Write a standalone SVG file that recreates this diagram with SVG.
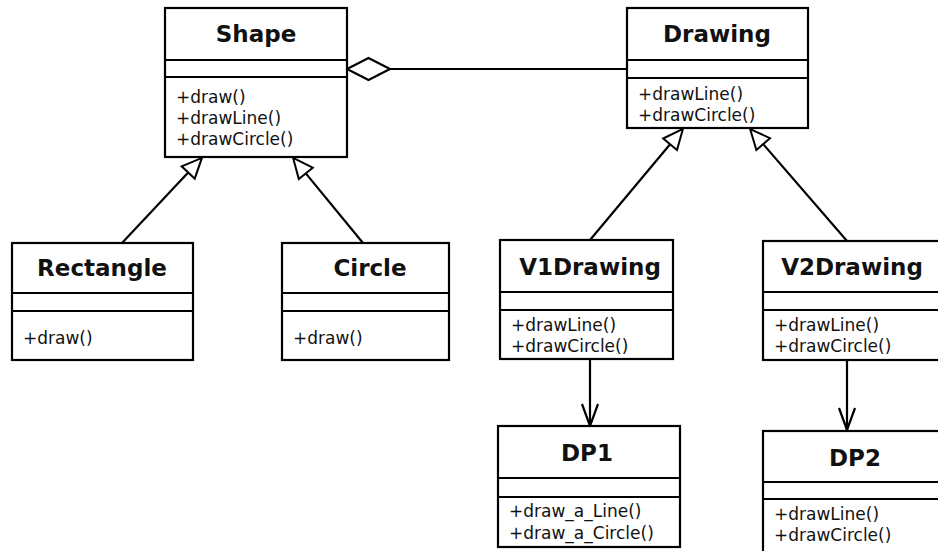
<svg xmlns="http://www.w3.org/2000/svg" width="938" height="551" viewBox="0 0 938 551">
<defs>
<style>
.box{fill:#fff;stroke:#000;stroke-width:2.2}
.div{stroke:#000;stroke-width:2.2}
.t{font-family:"DejaVu Sans",Verdana,sans-serif;font-weight:bold;font-size:23px;fill:#111;text-anchor:middle}
.m{font-family:"DejaVu Sans",Verdana,sans-serif;font-size:17px;fill:#111}
.ln{stroke:#000;stroke-width:2.2;fill:none}
</style>
<marker id="gen" viewBox="-2 -11 24 22" refX="0" refY="0" markerWidth="24" markerHeight="22" markerUnits="userSpaceOnUse" orient="auto">
<path d="M0,-9 L20,0 L0,9 Z" fill="#fff" stroke="#000" stroke-width="2"/>
</marker>
<marker id="dep" viewBox="-26 -11 28 22" refX="0" refY="0" markerWidth="28" markerHeight="22" markerUnits="userSpaceOnUse" orient="auto">
<path d="M-22,-8 L0,0 L-22,8" fill="none" stroke="#000" stroke-width="2.2"/>
</marker>
</defs>
<rect width="938" height="551" fill="#fff"/>
<g id="connectors">
<line class="ln" x1="627" y1="69" x2="390" y2="69"/>
<polygon points="347,69 368.5,58 390,69 368.5,80" fill="#fff" stroke="#000" stroke-width="2.2"/>
<line class="ln" x1="122" y1="243" x2="188.2" y2="172.5" marker-end="url(#gen)"/>
<line class="ln" x1="363" y1="243" x2="305.8" y2="173.4" marker-end="url(#gen)"/>
<line class="ln" x1="590" y1="240" x2="670.1" y2="144.3" marker-end="url(#gen)"/>
<line class="ln" x1="847" y1="241" x2="763.2" y2="144.1" marker-end="url(#gen)"/>
<line class="ln" x1="590" y1="359" x2="590" y2="426" marker-end="url(#dep)"/>
<line class="ln" x1="847" y1="360" x2="847" y2="430" marker-end="url(#dep)"/>
</g>
<g id="Shape">
<rect class="box" x="165" y="8" width="182" height="149"/>
<line class="div" x1="165" y1="60" x2="347" y2="60"/>
<line class="div" x1="165" y1="77" x2="347" y2="77"/>
<text class="t" x="256" y="42">Shape</text>
<text class="m" x="176" y="103">+draw()</text>
<text class="m" x="176" y="124">+drawLine()</text>
<text class="m" x="176" y="145">+drawCircle()</text>
</g>
<g id="Drawing">
<rect class="box" x="627" y="8" width="181" height="120"/>
<line class="div" x1="627" y1="60" x2="808" y2="60"/>
<line class="div" x1="627" y1="78" x2="808" y2="78"/>
<text class="t" x="717" y="42">Drawing</text>
<text class="m" x="638" y="100">+drawLine()</text>
<text class="m" x="638" y="121">+drawCircle()</text>
</g>
<g id="Rectangle">
<rect class="box" x="12" y="243" width="181" height="117"/>
<line class="div" x1="12" y1="293" x2="193" y2="293"/>
<line class="div" x1="12" y1="311" x2="193" y2="311"/>
<text class="t" x="102" y="276">Rectangle</text>
<text class="m" x="23" y="344">+draw()</text>
</g>
<g id="Circle">
<rect class="box" x="282" y="243" width="167" height="117"/>
<line class="div" x1="282" y1="293" x2="449" y2="293"/>
<line class="div" x1="282" y1="311" x2="449" y2="311"/>
<text class="t" x="370" y="276">Circle</text>
<text class="m" x="293" y="344">+draw()</text>
</g>
<g id="V1Drawing">
<rect class="box" x="500" y="240" width="173" height="119"/>
<line class="div" x1="500" y1="292" x2="673" y2="292"/>
<line class="div" x1="500" y1="310" x2="673" y2="310"/>
<text class="t" x="590" y="275">V1Drawing</text>
<text class="m" x="511" y="331">+drawLine()</text>
<text class="m" x="511" y="352">+drawCircle()</text>
</g>
<g id="V2Drawing">
<rect class="box" x="763" y="241" width="180" height="119"/>
<line class="div" x1="763" y1="292" x2="943" y2="292"/>
<line class="div" x1="763" y1="310" x2="943" y2="310"/>
<text class="t" x="852" y="275">V2Drawing</text>
<text class="m" x="774" y="331">+drawLine()</text>
<text class="m" x="774" y="352">+drawCircle()</text>
</g>
<g id="DP1">
<rect class="box" x="498" y="426" width="182" height="121"/>
<line class="div" x1="498" y1="478" x2="680" y2="478"/>
<line class="div" x1="498" y1="497" x2="680" y2="497"/>
<text class="t" x="587" y="461">DP1</text>
<text class="m" x="509" y="517">+draw_a_Line()</text>
<text class="m" x="509" y="539">+draw_a_Circle()</text>
</g>
<g id="DP2">
<rect class="box" x="763" y="431" width="180" height="130"/>
<line class="div" x1="763" y1="482" x2="943" y2="482"/>
<line class="div" x1="763" y1="499" x2="943" y2="499"/>
<text class="t" x="855" y="466">DP2</text>
<text class="m" x="774" y="520">+drawLine()</text>
<text class="m" x="774" y="541">+drawCircle()</text>
</g>
</svg>
